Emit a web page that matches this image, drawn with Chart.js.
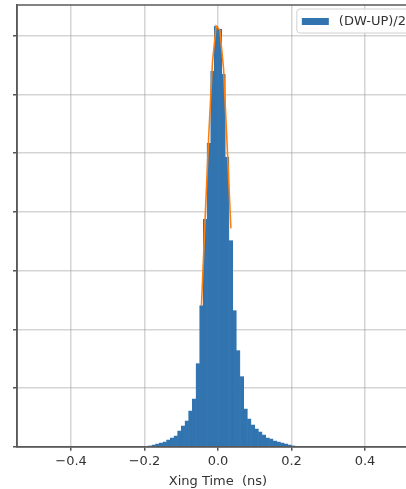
<!DOCTYPE html>
<html>
<head>
<meta charset="utf-8">
<script src="https://cdn.jsdelivr.net/npm/chart.js@4"></script>
<style>
  html, body { margin: 0; padding: 0; background: #fff; overflow: hidden; }
  canvas { display: block; }
</style>
</head>
<body>
<canvas id="histChart" width="422" height="489"></canvas>
<script>
// histogram of (DW-UP)/2, bins of 0.01 ns starting at -0.20
const binStart = -0.2;
const binWidth = 0.01;
const counts = [
  9, 17, 34, 51, 68, 85, 119, 154, 188, 273,
  358, 444, 614, 819, 1416, 2406, 3873, 5169, 6398, 7165,
  7114, 6346, 4930, 3514, 2320, 1638, 1194, 648, 478, 375,
  307, 256, 205, 154, 136, 102, 85, 68, 51, 34,
  17, 0, 9
];

// gaussian fit drawn over the core of the peak
const fitX = [-0.045, -0.035, -0.025, -0.015, -0.005, 0.005, 0.015, 0.025, 0.035];
const fitY = [2406, 3891, 5324, 6553, 7167, 7099, 6451, 5119, 3720];

const xTicks = [-0.4, -0.2, 0.0, 0.2, 0.4];
const yTicks = [0, 1000, 2000, 3000, 4000, 5000, 6000, 7000];

const histLabel = '(DW-UP)/2';
const barColor = '#3174af';
const fitColor = '#ff7f0e';
const FONT = '"DejaVu Sans", sans-serif';

const histData = counts.map((c, i) => ({ x: binStart + binWidth * (i + 0.5), y: c }));
const fitData = fitX.map((x, i) => ({ x: x, y: fitY[i] }));

// axes box + legend in the upper right, matplotlib style
const boxPlugin = {
  id: 'boxLegend',
  afterDraw(chart) {
    const { ctx, chartArea: a } = chart;
    ctx.save();
    ctx.strokeStyle = '#5a5a5a';
    ctx.lineWidth = 1.5;
    ctx.strokeRect(a.left, a.top, a.right - a.left, a.bottom - a.top);

    ctx.font = '13px ' + FONT;
    const tw = ctx.measureText(histLabel).width;
    const w = 5 + 27 + 10 + tw + 8;
    const right = a.right - 5;
    const left = right - w;
    const top = a.top + 4, h = 24;
    ctx.fillStyle = 'rgba(255,255,255,0.85)';
    ctx.strokeStyle = '#d0d0d0';
    ctx.lineWidth = 1;
    ctx.beginPath();
    ctx.roundRect(left, top, w, h, 3);
    ctx.fill();
    ctx.stroke();
    ctx.fillStyle = barColor;
    ctx.fillRect(left + 5, top + 9, 27, 7);
    ctx.fillStyle = '#333';
    ctx.textBaseline = 'middle';
    ctx.fillText(histLabel, left + 42, top + 12.5);
    ctx.restore();
  }
};

new Chart(document.getElementById('histChart'), {
  type: 'bar',
  data: {
    datasets: [
      {
        label: histLabel,
        data: histData,
        backgroundColor: barColor,
        borderColor: barColor,
        borderWidth: 0.5,
        barPercentage: 1,
        categoryPercentage: 1,
        order: 2
      },
      {
        type: 'line',
        label: 'fit',
        data: fitData,
        borderColor: fitColor,
        borderWidth: 1.6,
        pointRadius: 0,
        tension: 0,
        order: 1
      }
    ]
  },
  options: {
    responsive: false,
    animation: false,
    layout: { padding: { left: 13, right: 3, top: 5, bottom: 0 } },
    plugins: { legend: { display: false }, tooltip: { enabled: false } },
    scales: {
      x: {
        type: 'linear',
        min: -0.547,
        max: 0.547,
        offset: false,
        z: 1,
        afterBuildTicks: s => { s.ticks = xTicks.map(v => ({ value: v })); },
        grid: { offset: false, color: 'rgba(160,160,160,0.45)', lineWidth: 1.5, tickColor: '#555', tickLength: 4 },
        border: { color: '#5a5a5a', width: 1.5 },
        ticks: {
          color: '#333',
          font: { family: FONT, size: 13 },
          padding: 3,
          maxRotation: 0,
          callback: v => v.toFixed(1).replace('-', '\u2212')
        },
        title: {
          display: true,
          text: 'Xing Time  (ns)',
          color: '#333',
          font: { family: FONT, size: 13 },
          padding: { top: 1, bottom: 0 }
        }
      },
      y: {
        min: 0,
        max: 7525,
        z: 1,
        afterBuildTicks: s => { s.ticks = yTicks.map(v => ({ value: v })); },
        grid: { color: 'rgba(160,160,160,0.45)', lineWidth: 1.5, tickColor: '#555', tickLength: 4 },
        border: { color: '#5a5a5a', width: 1.5 },
        ticks: { display: false }
      }
    }
  },
  plugins: [boxPlugin]
});
</script>
</body>
</html>
